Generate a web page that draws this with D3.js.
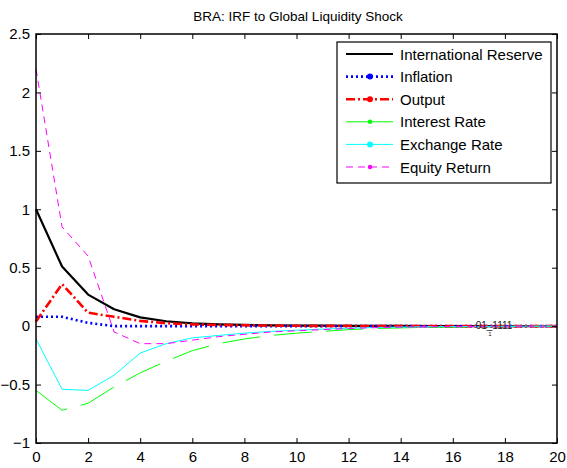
<!DOCTYPE html>
<html><head><meta charset="utf-8">
<script src="https://cdn.jsdelivr.net/npm/d3@7"></script>
<style>body{margin:0;background:#fff}svg{display:block}text{font-family:"Liberation Sans",Arial,sans-serif}</style>
</head><body>
<script>
const periods = d3.range(0, 21);
const seriesNames = ["International Reserve","Inflation","Output","Interest Rate","Exchange Rate","Equity Return"];
const intlReserve = [1.0,0.51,0.27,0.145,0.075,0.042,0.024,0.015,0.01,0.007,0.005,0.004,0.003,0.002,0.002,0.001,0.001,0.001,0,0,0];
const inflation   = [0.08,0.08,0.028,0.0,0.0,0.0,0.0,0.0,0.0,0.0,0.0,0.0,0.0,0.0,0.0,0.0,0.0,0.0,0.0,0.0,0.0];
const output      = [0.04,0.36,0.115,0.08,0.045,0.025,0.015,0.01,0.007,0.005,0.003,0.002,0.002,0.001,0.001,0,0,0,0,0,0];
const interest    = [-0.55,-0.72,-0.66,-0.52,-0.40,-0.30,-0.21,-0.15,-0.11,-0.08,-0.06,-0.045,-0.03,-0.02,-0.015,-0.01,-0.007,-0.005,-0.003,-0.002,-0.001];
const exchange    = [-0.11,-0.54,-0.55,-0.42,-0.23,-0.15,-0.10,-0.08,-0.06,-0.045,-0.035,-0.025,-0.018,-0.012,-0.008,-0.005,-0.003,-0.002,-0.001,0,0];
const equity      = [2.2,0.85,0.6,-0.05,-0.15,-0.15,-0.12,-0.09,-0.07,-0.05,-0.04,-0.03,-0.02,-0.013,-0.008,-0.005,-0.003,-0.002,-0.001,0,0];
const xTicks = d3.range(0, 21, 2);
const yTicks = [-1,-0.5,0,0.5,1,1.5,2,2.5];

const W = 567, H = 468;
const L = 36, R = 557, T = 34, B = 443;
const styles = [
  {c:"#000000", w:2.2, d:null},
  {c:"#0000ff", w:2.6, d:"2,3"},
  {c:"#ff0000", w:2.6, d:"9,3,2,3"},
  {c:"#00ff00", w:1, d:"38,14"},
  {c:"#00ffff", w:1, d:null},
  {c:"#ff00ff", w:1, d:"7,5"}
];
const allData = [intlReserve, inflation, output, interest, exchange, equity];

const svg = d3.select("body").append("svg").attr("width", W).attr("height", H);
const x = d3.scaleLinear().domain([0,20]).range([L,R]);
const y = d3.scaleLinear().domain([-1,2.5]).range([B,T]);

svg.append("text").attr("x", 298).attr("y", 21).attr("text-anchor","middle")
  .attr("font-size", 13.5).text("BRA: IRF to Global Liquidity Shock");

const line = d3.line().x((d,i)=>x(periods[i])).y(d=>y(d));
const plot = svg.append("g");
allData.forEach((arr,k)=>{
  const s = styles[k];
  plot.append("path").attr("d", line(arr)).attr("fill","none")
    .attr("stroke", s.c).attr("stroke-width", s.w)
    .attr("stroke-dasharray", s.d).attr("stroke-linejoin","round");
});

// stray annotation
svg.append("text").attr("x", 494).attr("y", 329).attr("text-anchor","middle")
  .attr("font-size", 10).attr("fill","#222").text("01_1111");
svg.append("text").attr("x", 490).attr("y", 336).attr("text-anchor","middle")
  .attr("font-size", 6).attr("fill","#222").text("1");

// axes
const FS = 15;
const axBottom = d3.axisBottom(x).tickValues(xTicks).tickSize(-5).tickPadding(8).tickFormat(d3.format("d"));
const gb = svg.append("g").attr("transform",`translate(0,${B})`).call(axBottom);
const axTop = d3.axisTop(x).tickValues(xTicks).tickSize(-5).tickFormat("");
const gt = svg.append("g").attr("transform",`translate(0,${T})`).call(axTop);
const axLeft = d3.axisLeft(y).tickValues(yTicks).tickSize(-5).tickPadding(6).tickFormat(d=>d3.format("")(d));
const gl = svg.append("g").attr("transform",`translate(${L},0)`).call(axLeft);
const axRight = d3.axisRight(y).tickValues(yTicks).tickSize(-5).tickFormat("");
const gr = svg.append("g").attr("transform",`translate(${R},0)`).call(axRight);
[gb,gt,gl,gr].forEach(g=>{
  g.select(".domain").remove();
  g.selectAll("line").attr("stroke","#000");
  g.selectAll("text").attr("font-size",FS).attr("font-family","Liberation Sans, Arial, sans-serif").attr("fill","#000");
});
svg.append("rect").attr("x",L).attr("y",T).attr("width",R-L).attr("height",B-T)
  .attr("fill","none").attr("stroke","#000").attr("stroke-width",1.5);

// legend
const lg = svg.append("g");
const lx0 = 337, ly0 = 42, lw = 214, lh = 141;
lg.append("rect").attr("x",lx0).attr("y",ly0).attr("width",lw).attr("height",lh)
  .attr("fill","#fff").attr("stroke","#000").attr("stroke-width",1.2);
seriesNames.forEach((name,k)=>{
  const s = styles[k];
  const yy = 54 + k*22.6;
  lg.append("line").attr("x1",346).attr("x2",393).attr("y1",yy).attr("y2",yy)
    .attr("stroke",s.c).attr("stroke-width",s.w).attr("stroke-dasharray",s.d===("38,14")?null:s.d);
  if(k>0) lg.append("circle").attr("cx",370).attr("cy",yy).attr("r",k==3||k==5?2.2:3).attr("fill",s.c);
  lg.append("text").attr("x",400).attr("y",yy+5.5).attr("font-size",FS).text(name);
});
</script>
</body></html>
